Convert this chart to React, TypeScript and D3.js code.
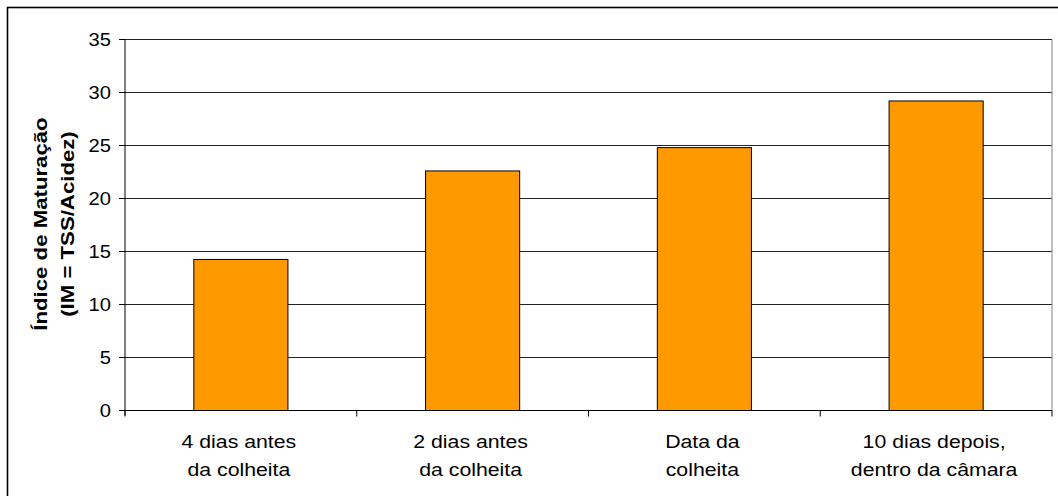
import React, { useRef, useEffect } from "react";
import * as d3 from "d3";

const categories = [
  ["4 dias antes", "da colheita"],
  ["2 dias antes", "da colheita"],
  ["Data da", "colheita"],
  ["10 dias depois,", "dentro da câmara"],
];
const values = [14.25, 22.6, 24.8, 29.2];
const yTicks = [0, 5, 10, 15, 20, 25, 30, 35];
const yTitle = ["Índice de Maturação", "(IM = TSS/Acidez)"];

function BarChart() {
  const chartRef = useRef<SVGSVGElement>(null);

  useEffect(() => {
    const svg = d3.select(chartRef.current);
    svg.selectAll("*").remove();

    const W = 1058;
    const H = 496;
    const plot = { left: 125, right: 1052, top: 39.5, bottom: 410.5 };
    const font = "'Liberation Sans', Arial, Helvetica, sans-serif";

    // outer chart border (runs off the right/bottom edges)
    svg
      .append("rect")
      .attr("x", 7.5)
      .attr("y", 7.5)
      .attr("width", W)
      .attr("height", H)
      .attr("fill", "#fff")
      .attr("stroke", "#000")
      .attr("stroke-width", 1.6);

    const y = d3.scaleLinear().domain([0, 35]).range([plot.bottom, plot.top]);
    const idx = categories.map((_, i) => i);
    const xBand = d3
      .scaleBand<number>()
      .domain(idx)
      .range([plot.left, plot.right])
      .paddingInner(0.594)
      .paddingOuter(0.297);
    const xCat = d3.scaleBand<number>().domain(idx).range([plot.left, plot.right]);

    // gridlines
    svg
      .append("g")
      .selectAll("line")
      .data(yTicks.filter((t) => t > 0))
      .join("line")
      .attr("x1", plot.left)
      .attr("x2", plot.right)
      .attr("y1", (d) => y(d))
      .attr("y2", (d) => y(d))
      .attr("stroke", "#222")
      .attr("stroke-width", 1);

    // right plot border
    svg
      .append("line")
      .attr("x1", plot.right)
      .attr("x2", plot.right)
      .attr("y1", plot.top)
      .attr("y2", plot.bottom)
      .attr("stroke", "#808080");

    // bars
    svg
      .append("g")
      .selectAll("rect")
      .data(values)
      .join("rect")
      .attr("x", (_, i) => xBand(i)!)
      .attr("y", (d) => y(d))
      .attr("width", xBand.bandwidth())
      .attr("height", (d) => y(0) - y(d))
      .attr("fill", "#FF9900")
      .attr("stroke", "#000")
      .attr("stroke-width", 1);

    // y axis
    const ya = svg.append("g");
    ya.append("line")
      .attr("x1", plot.left)
      .attr("x2", plot.left)
      .attr("y1", plot.top)
      .attr("y2", plot.bottom + 5)
      .attr("stroke", "#000");
    ya.selectAll("line.tick")
      .data(yTicks)
      .join("line")
      .attr("class", "tick")
      .attr("x1", plot.left - 6)
      .attr("x2", plot.left)
      .attr("y1", (d) => y(d))
      .attr("y2", (d) => y(d))
      .attr("stroke", "#000");
    ya.selectAll("text")
      .data(yTicks)
      .join("text")
      .attr("transform", (d) => `translate(111,${y(d) + 6.5}) scale(1.12,1)`)
      .attr("text-anchor", "end")
      .attr("font-family", font)
      .attr("font-size", 18)
      .attr("fill", "#000")
      .text((d) => d);

    // x axis
    const xa = svg.append("g");
    xa.append("line")
      .attr("x1", plot.left)
      .attr("x2", plot.right)
      .attr("y1", plot.bottom)
      .attr("y2", plot.bottom)
      .attr("stroke", "#000");
    const bounds = idx.map((i) => xCat(i)!).concat([plot.right]);
    xa.selectAll("line.tick")
      .data(bounds)
      .join("line")
      .attr("class", "tick")
      .attr("x1", (d) => d)
      .attr("x2", (d) => d)
      .attr("y1", plot.bottom)
      .attr("y2", plot.bottom + 6)
      .attr("stroke", "#000");
    categories.forEach((lines, i) => {
      const cx = xCat(i)! + xCat.bandwidth() / 2;
      lines.forEach((t, j) => {
        xa.append("text")
          .attr("transform", `translate(${cx - 2},${448 + j * 27.5}) scale(1.15,1)`)
          .attr("text-anchor", "middle")
          .attr("font-family", font)
          .attr("font-size", 18.5)
          .attr("fill", "#000")
          .text(t);
      });
    });

    // y axis title
    yTitle.forEach((t, j) => {
      svg
        .append("text")
        .attr("transform", `translate(${47 + j * 26.5},224) rotate(-90) scale(1.2,1)`)
        .attr("text-anchor", "middle")
        .attr("font-family", font)
        .attr("font-weight", "bold")
        .attr("font-size", 18.5)
        .attr("fill", "#000")
        .text(t);
    });
  }, []);

  return (
    <svg
      ref={chartRef}
      width={1058}
      height={496}
      style={{ position: "absolute", left: 0, top: 0, background: "#fff" }}
    ></svg>
  );
}

export default function App() {
  return <BarChart />;
}
